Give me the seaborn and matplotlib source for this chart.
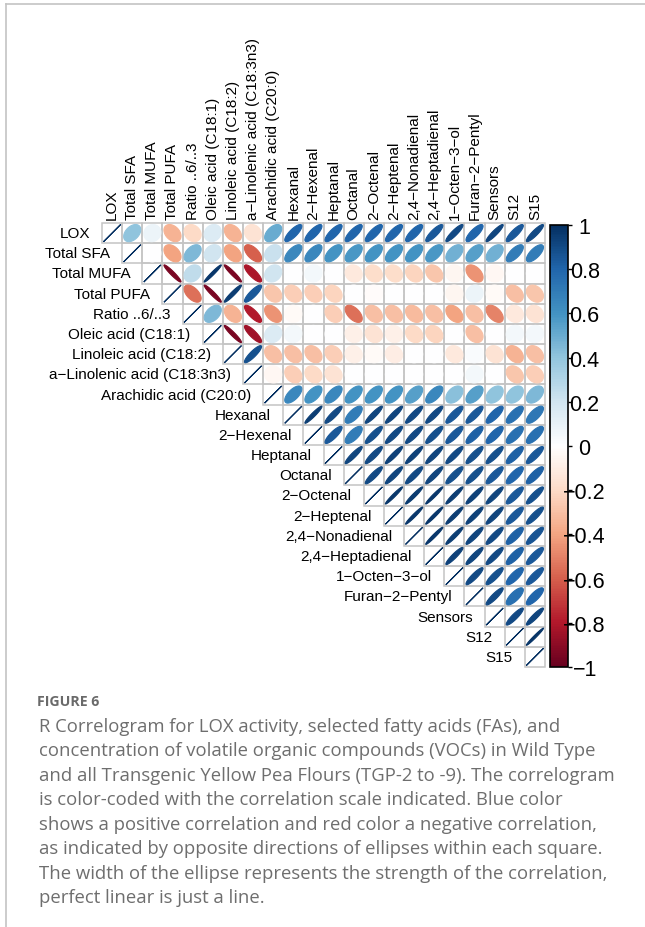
import numpy as np
import pandas as pd
import seaborn as sns
import matplotlib
matplotlib.use("Agg")
import matplotlib.pyplot as plt
from matplotlib.patches import Polygon, Rectangle
from matplotlib.colors import LinearSegmentedColormap, ListedColormap, Normalize
from matplotlib.cm import ScalarMappable
from matplotlib.lines import Line2D

MINUS = "\u2212"
variables = ["LOX", "Total SFA", "Total MUFA", "Total PUFA", "Ratio ..6/..3",
             "Oleic acid (C18:1)", "Linoleic acid (C18:2)", "a" + MINUS + "Linolenic acid (C18:3n3)",
             "Arachidic acid (C20:0)", "Hexanal", "2" + MINUS + "Hexenal", "Heptanal", "Octanal",
             "2" + MINUS + "Octenal", "2" + MINUS + "Heptenal", "2,4" + MINUS + "Nonadienal",
             "2,4" + MINUS + "Heptadienal", "1" + MINUS + "Octen" + MINUS + "3" + MINUS + "ol",
             "Furan" + MINUS + "2" + MINUS + "Pentyl", "Sensors", "S12", "S15"]

# upper-triangle correlations, each row starting right of the diagonal
row_lox = [0.40, 0.08, -0.35, -0.20, 0.15, -0.35, -0.15, 0.50, 0.80, 0.80, 0.80, 0.80, 0.80, 0.80, 0.80, 0.85, 0.90, 0.80, 0.92, 0.85, 0.90]
row_sfa = [0.00, -0.40, 0.45, 0.20, -0.40, -0.60, 0.22, 0.65, 0.65, 0.60, 0.58, 0.60, 0.60, 0.60, 0.58, 0.48, 0.55, 0.48, 0.70, 0.70]
row_mufa = [-0.95, 0.25, 0.97, -0.95, -0.82, 0.20, 0.00, 0.05, 0.00, -0.12, -0.18, -0.18, -0.22, -0.28, -0.05, -0.45, -0.04, 0.00, 0.00]
row_pufa = [-0.55, -0.95, 0.95, 0.85, -0.28, -0.25, -0.25, -0.22, 0.00, -0.02, 0.00, 0.00, 0.00, -0.05, 0.08, -0.03, -0.30, -0.28]
row_ratio = [0.45, -0.35, -0.80, -0.45, -0.03, 0.00, -0.25, -0.55, -0.30, -0.30, -0.32, -0.30, -0.40, -0.30, -0.50, -0.12, -0.15]
row_oleic = [-0.95, -0.85, 0.15, 0.05, 0.00, 0.00, -0.08, -0.15, -0.08, -0.20, -0.22, 0.00, -0.30, 0.00, 0.05, 0.05]
row_linoleic = [0.88, -0.30, -0.30, -0.30, -0.25, -0.08, -0.03, -0.10, 0.00, 0.00, -0.12, 0.03, -0.15, -0.35, -0.30]
row_alin = [-0.04, -0.25, -0.20, -0.15, 0.00, 0.00, 0.00, 0.00, 0.00, 0.00, 0.05, 0.00, -0.28, -0.25]
row_arach = [0.65, 0.60, 0.65, 0.60, 0.60, 0.60, 0.55, 0.65, 0.42, 0.55, 0.40, 0.40, 0.45]
row_hexanal = [0.95, 0.90, 0.70, 0.92, 0.92, 0.90, 0.90, 0.85, 0.85, 0.80, 0.75, 0.72]
row_hexenal = [0.85, 0.70, 0.88, 0.90, 0.90, 0.88, 0.85, 0.82, 0.80, 0.75, 0.75]
row_heptanal = [0.92, 0.90, 0.93, 0.93, 0.92, 0.90, 0.88, 0.88, 0.82, 0.85]
row_octanal = [0.90, 0.92, 0.90, 0.92, 0.88, 0.88, 0.85, 0.80, 0.82]
row_octenal = [0.97, 0.96, 0.97, 0.95, 0.93, 0.92, 0.85, 0.88]
row_heptenal = [0.97, 0.97, 0.95, 0.93, 0.92, 0.85, 0.88]
row_nonadienal = [0.97, 0.95, 0.92, 0.90, 0.82, 0.86]
row_heptadienal = [0.93, 0.92, 0.90, 0.82, 0.85]
row_octenol = [0.90, 0.88, 0.80, 0.85]
row_furan = [0.90, 0.75, 0.80]
row_sensors = [0.90, 0.92]
row_s12 = [0.98]

cbar_ticks = [1, 0.8, 0.6, 0.4, 0.2, 0, -0.2, -0.4, -0.6, -0.8, -1]

caption_title = "FIGURE 6"
caption_lines = [
    "R Correlogram for LOX activity, selected fatty acids (FAs), and",
    "concentration of volatile organic compounds (VOCs) in Wild Type",
    "and all Transgenic Yellow Pea Flours (TGP-2 to -9). The correlogram",
    "is color-coded with the correlation scale indicated. Blue color",
    "shows a positive correlation and red color a negative correlation,",
    "as indicated by opposite directions of ellipses within each square.",
    "The width of the ellipse represents the strength of the correlation,",
    "perfect linear is just a line.",
]

rows = [row_lox, row_sfa, row_mufa, row_pufa, row_ratio, row_oleic, row_linoleic, row_alin,
        row_arach, row_hexanal, row_hexenal, row_heptanal, row_octanal, row_octenal,
        row_heptenal, row_nonadienal, row_heptadienal, row_octenol, row_furan, row_sensors, row_s12]

n = len(variables)
mat = np.eye(n)
for i, vals in enumerate(rows):
    for k, v in enumerate(vals):
        j = i + 1 + k
        mat[i, j] = v
        mat[j, i] = v
corr = pd.DataFrame(mat, index=variables, columns=variables)

cmap = LinearSegmentedColormap.from_list(
    "corrRdBu", ["#67001F", "#B2182B", "#D6604D", "#F4A582", "#FDDBC7", "#FFFFFF",
                 "#D1E5F0", "#92C5DE", "#4393C3", "#2166AC", "#053061"])
norm = Normalize(-1, 1)

W, H = 645, 928
fig = plt.figure(figsize=(W / 100, H / 100), dpi=100)
plt.rcParams["font.family"] = ["Liberation Sans", "DejaVu Sans"]

# frame lines of the figure panel
fig.add_artist(Line2D([6 / W, 6 / W], [0, 1 - 5 / H], color="#c3c3c3", lw=1.2))
fig.add_artist(Line2D([6 / W, 1], [1 - 5 / H, 1 - 5 / H], color="#c3c3c3", lw=1.2))

gx0, gx1, gy0, gy1 = 102, 545, 224, 668
ax = fig.add_axes([gx0 / W, 1 - gy1 / H, (gx1 - gx0) / W, (gy1 - gy0) / H])
mask = np.tril(np.ones((n, n), dtype=bool), k=-1)
sns.heatmap(corr, mask=mask, cmap=ListedColormap(["white"]), cbar=False,
            linewidths=0, xticklabels=False, yticklabels=False, ax=ax)
ax.set_xlim(0, n)
ax.set_ylim(n, 0)
ax.set_xlabel("")
ax.set_ylabel("")
ax.axis("off")

t = np.linspace(0, 2 * np.pi, 99)
for i in range(n):
    for j in range(i, n):
        ax.add_patch(Rectangle((j, i), 1, 1, facecolor="none", edgecolor="#c4c4c4",
                               lw=1.1, zorder=2, clip_on=False))
for i in range(n):
    for j in range(i, n):
        r = float(np.clip(corr.iloc[i, j], -1, 1))
        d = np.arccos(r)
        ex = np.cos(t + d / 2) / 2 * 0.85
        ey = np.cos(t - d / 2) / 2 * 0.85
        col = cmap(norm(r))
        pts = np.column_stack([j + 0.5 + ex, i + 0.5 - ey])
        ax.add_patch(Polygon(pts, closed=True, facecolor=col, edgecolor=col, lw=0.8, zorder=3))

lab_fs = 11
for i, name in enumerate(variables):
    ax.text(i - 0.6, i + 0.5, name, ha="right", va="center", fontsize=lab_fs, color="black",
            clip_on=False)
    ax.text(i + 0.5, -0.2, name, ha="center", va="bottom", rotation=90, fontsize=lab_fs,
            color="black", clip_on=False)

# colour legend
cax = fig.add_axes([550 / W, 1 - 668 / H, 18 / W, (668 - 226) / H])
cb = fig.colorbar(ScalarMappable(norm=norm, cmap=cmap), cax=cax, ticks=cbar_ticks)
cb.outline.set_linewidth(1.2)
cb.outline.set_edgecolor("black")
cax.tick_params(axis="y", length=3, width=1, pad=9, labelsize=15.5, colors="black")
cb.set_ticklabels([("%g" % v).replace("-", MINUS) for v in cbar_ticks])
for lbl in cax.get_yticklabels():
    lbl.set_horizontalalignment("center")

# caption
fig.text(37 / W, 1 - 702 / H, caption_title, fontsize=10.2, fontweight="bold", color="#6a6a6a",
         family=["Open Sans", "DejaVu Sans"], va="center", ha="left")
for k, line in enumerate(caption_lines):
    fig.text(39 / W, 1 - (727 + 24.5 * k) / H, line, fontsize=13.3, color="#6e6e6e",
             family=["Open Sans", "DejaVu Sans"], va="center", ha="left")

fig.savefig("out.png", dpi=100)
